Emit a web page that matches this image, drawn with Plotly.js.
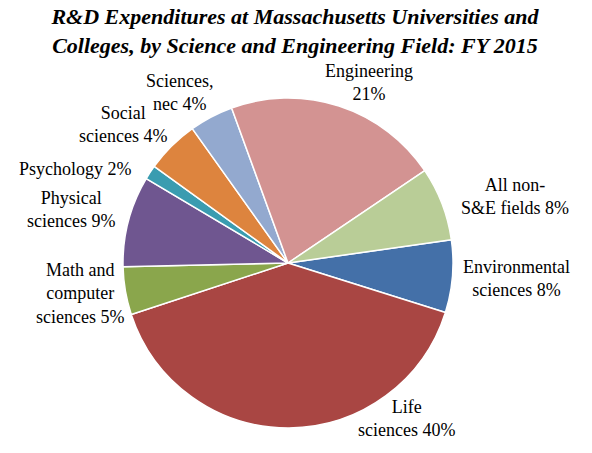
<!DOCTYPE html>
<html><head><meta charset="utf-8">
<script src="https://cdn.plot.ly/plotly-3.0.1.min.js"></script>
<style>html,body{margin:0;padding:0;background:#fff}</style>
</head><body>
<div id="chart" style="width:592px;height:453px"></div>
<script>
// Data
const categories = ["Environmental sciences", "Life sciences", "Math and computer sciences", "Physical sciences", "Psychology", "Social sciences", "Sciences, nec", "Engineering", "All non-S&E fields"];
const values = [7.1, 40.1, 4.7, 8.9, 1.4, 5.2, 4.3, 21.1, 7.2];
const labelTexts = ["Environmental<br>sciences 8%", "Life<br>sciences 40%", "Math and<br>computer<br>sciences 5%", "Physical<br>sciences 9%", "Psychology 2%", "Social<br>sciences 4%", "Sciences,<br>nec 4%", "Engineering<br>21%", "All non-<br>S&E fields 8%"];
const colors = ["#4470a8", "#a94643", "#8aa64c", "#6f5690", "#3a9cb0", "#dd843e", "#93a9cf", "#d39392", "#b9cd97"];

// label placements (pixels)
const labelPos = [[516, 278], [406, 418], [80, 293], [71, 210], [75, 169], [123, 124], [179, 92], [369, 82], [515, 196]];

const W = 592, H = 453;
const cx = 288, cy = 263, r = 165;
const serif = "Liberation Serif";

const trace = {
  type: "pie",
  labels: categories,
  values: values,
  sort: false,
  direction: "clockwise",
  rotation: 81.9,
  textinfo: "none",
  hoverinfo: "label+percent",
  marker: {colors: colors, line: {color: "#ffffff", width: 1.5}},
  domain: {x: [(cx - r) / W, (cx + r) / W], y: [(H - cy - r) / H, (H - cy + r) / H]},
  showlegend: false
};

const annotations = labelTexts.map((t, i) => ({
  text: t,
  xref: "paper", yref: "paper",
  x: labelPos[i][0] / W, y: 1 - labelPos[i][1] / H,
  xanchor: "center", yanchor: "middle",
  showarrow: false, align: "center",
  font: {family: serif, size: 18, color: "#000"}
}));

const layout = {
  width: W, height: H,
  margin: {l: 0, r: 0, t: 0, b: 0},
  paper_bgcolor: "#ffffff",
  font: {family: serif},
  title: {
    text: "<b><i>R&D Expenditures at Massachusetts Universities and<br>Colleges, by Science and Engineering Field: FY 2015</i></b>",
    font: {family: serif, size: 22, color: "#000"},
    x: 295 / W, xanchor: "center",
    y: 1 - 24 / H, yanchor: "middle", yref: "container"
  },
  annotations: annotations
};

Plotly.newPlot("chart", [trace], layout, {displayModeBar: false, staticPlot: true});
</script>
</body></html>
